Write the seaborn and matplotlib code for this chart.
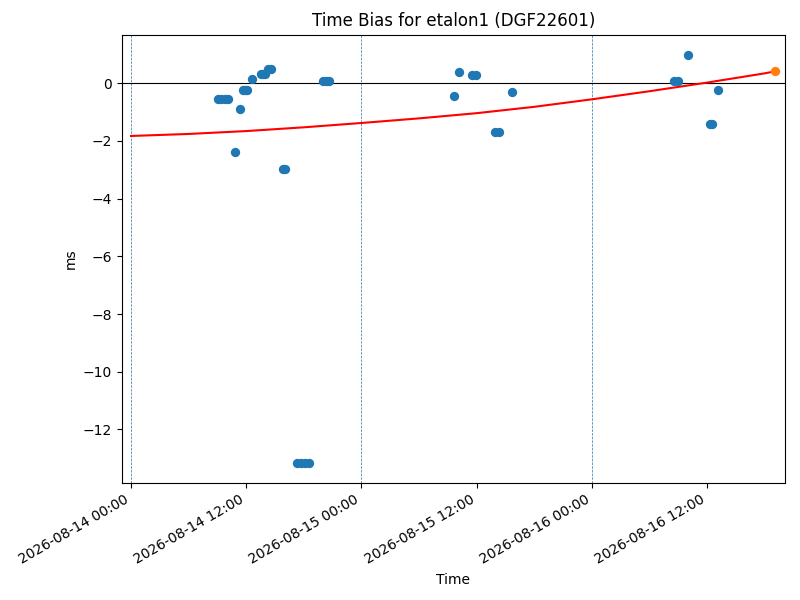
import pandas as pd
import matplotlib
matplotlib.use('Agg')
import matplotlib.pyplot as plt
import matplotlib.dates as mdates
import seaborn as sns

start = pd.Timestamp('2026-08-14 00:00')

# measured time bias, hours after start and ms
obs_hours = [9.05, 9.4, 9.75, 10.05, 10.83, 11.35, 11.7, 11.9, 12.1, 12.6,
             13.55, 13.75, 13.95, 14.3, 14.6, 15.8, 16.05,
             17.3, 17.7, 18.1, 18.5, 20.0, 20.3, 20.6,
             33.65, 34.2, 35.55, 35.95, 37.9, 38.35, 39.7,
             56.6, 57.0, 58.0, 60.35, 60.55, 61.15]
obs_ms = [-0.56, -0.56, -0.56, -0.56, -2.37, -0.88, -0.25, -0.25, -0.25, 0.16,
          0.31, 0.31, 0.31, 0.48, 0.48, -2.97, -2.97,
          -13.15, -13.15, -13.15, -13.15, 0.09, 0.09, 0.09,
          -0.46, 0.37, 0.28, 0.28, -1.68, -1.68, -0.29,
          0.09, 0.09, 0.97, -1.40, -1.40, -0.25]

# predicted point
pred_hours = [67.1]
pred_ms = [0.41]

# trend curve
fit_hours = [0, 6, 12, 18, 24, 30, 36, 42, 48, 54, 60, 66, 67.1]
fit_ms = [-1.83, -1.76, -1.66, -1.53, -1.38, -1.22, -1.04, -0.82, -0.56, -0.28, 0.02, 0.34, 0.41]

day_marks = ['2026-08-14', '2026-08-15', '2026-08-16']

obs = pd.DataFrame({'t': start + pd.to_timedelta(obs_hours, unit='h'), 'ms': obs_ms})
pred = pd.DataFrame({'t': start + pd.to_timedelta(pred_hours, unit='h'), 'ms': pred_ms})
fit = pd.DataFrame({'t': start + pd.to_timedelta(fit_hours, unit='h'), 'ms': fit_ms})

fig, ax = plt.subplots(figsize=(8, 6), dpi=100)
fig.subplots_adjust(left=0.1525, right=0.981, top=0.942, bottom=0.195)

for d in day_marks:
    ax.axvline(pd.Timestamp(d), color='C0', linestyle='--', linewidth=0.5)
ax.axhline(0, color='black', linewidth=0.8)

sns.scatterplot(data=obs, x='t', y='ms', color='C0', s=45, linewidth=0, ax=ax, zorder=3)
sns.lineplot(data=fit, x='t', y='ms', color='red', linewidth=1.5, ax=ax, zorder=2)
sns.scatterplot(data=pred, x='t', y='ms', color='C1', s=45, linewidth=0, ax=ax, zorder=4)

ax.set_xlim(start - pd.Timedelta(hours=0.94), start + pd.Timedelta(hours=68.1))
ax.xaxis.set_major_locator(mdates.HourLocator(byhour=[0, 12]))
ax.xaxis.set_major_formatter(mdates.DateFormatter('%Y-%m-%d %H:%M'))
plt.setp(ax.get_xticklabels(), rotation=30, ha='right')

ax.set_title('Time Bias for etalon1 (DGF22601)')
ax.set_xlabel('Time')
ax.set_ylabel('ms')

plt.savefig('out.png')
